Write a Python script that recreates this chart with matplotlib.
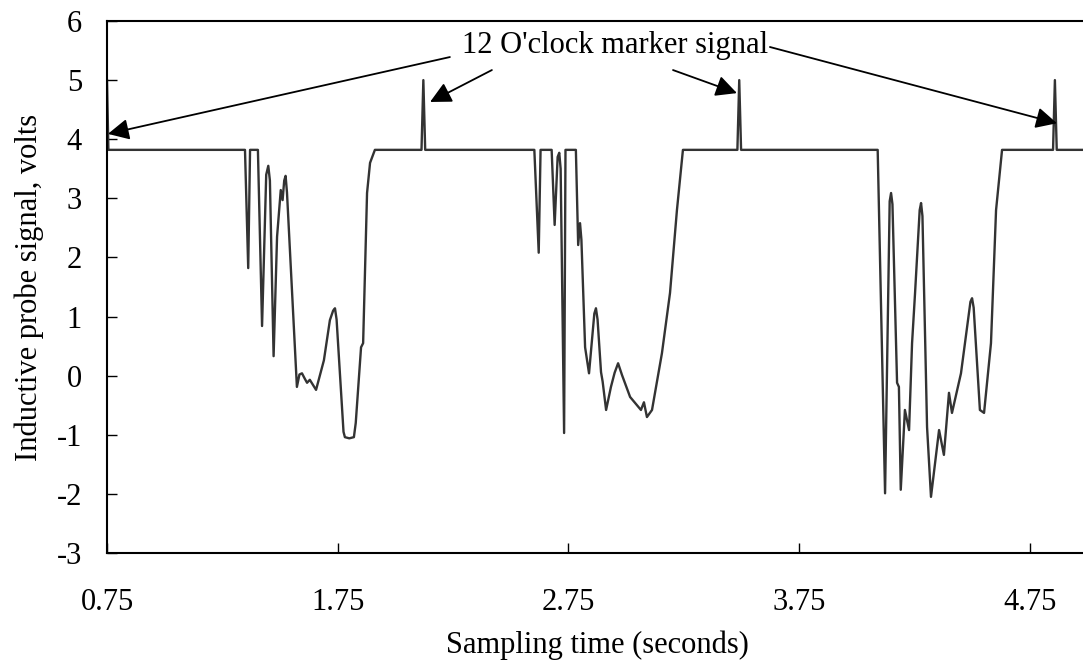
import numpy as np
import matplotlib.pyplot as plt

plt.rcParams['font.family'] = ['Liberation Serif', 'DejaVu Serif']
plt.rcParams['axes.unicode_minus'] = False

# digitized probe signal (seconds, volts)
time_s = [0.750, 0.756,
          1.348, 1.362, 1.370, 1.404, 1.422, 1.440, 1.449, 1.456, 1.472, 1.487,
          1.503, 1.511, 1.518, 1.524, 1.530, 1.573, 1.584, 1.595, 1.607, 1.617,
          1.629, 1.656, 1.690, 1.716, 1.730, 1.738, 1.745, 1.775, 1.781, 1.800,
          1.820, 1.828, 1.851, 1.860, 1.877, 1.890, 1.911,
          2.113, 2.121, 2.129,
          2.602, 2.621, 2.629, 2.677, 2.690, 2.703, 2.710, 2.716, 2.731, 2.737,
          2.782, 2.792, 2.800, 2.806, 2.822, 2.839, 2.862, 2.869, 2.876, 2.891,
          2.898, 2.913, 2.934, 2.950, 2.965, 2.982, 3.017, 3.064, 3.077, 3.090,
          3.112, 3.155, 3.190, 3.220, 3.246,
          3.482, 3.490, 3.498,
          4.090, 4.100, 4.122, 4.142, 4.148, 4.154, 4.174, 4.182, 4.190, 4.208,
          4.226, 4.239, 4.252, 4.272, 4.278, 4.284, 4.304, 4.321, 4.356, 4.377,
          4.399, 4.412, 4.451, 4.492, 4.499, 4.506, 4.533, 4.551, 4.581, 4.603,
          4.629,
          4.850, 4.858, 4.866, 4.990]
volts = [5.00, 3.82,
         3.82, 1.82, 3.82, 3.82, 0.84, 3.40, 3.55, 3.30, 0.33, 2.35,
         3.14, 2.97, 3.30, 3.38, 3.10, -0.19, 0.02, 0.04, -0.05, -0.12,
         -0.07, -0.24, 0.26, 0.94, 1.10, 1.14, 0.95, -0.95, -1.04, -1.06,
         -1.04, -0.80, 0.48, 0.55, 3.09, 3.60, 3.82,
         3.82, 5.00, 3.82,
         3.82, 2.08, 3.82, 3.82, 2.55, 3.70, 3.77, 3.50, -0.97, 3.82,
         3.82, 2.21, 2.58, 2.30, 0.48, 0.04, 1.05, 1.14, 0.95, 0.06,
         -0.10, -0.58, -0.19, 0.05, 0.21, 0.01, -0.36, -0.58, -0.45, -0.70,
         -0.58, 0.38, 1.40, 2.80, 3.82,
         3.82, 5.00, 3.82,
         3.82, 2.00, -1.99, 2.95, 3.09, 2.90, -0.12, -0.19, -1.93, -0.58,
         -0.92, 0.55, 1.40, 2.80, 2.92, 2.70, -0.87, -2.05, -0.92, -1.34,
         -0.29, -0.63, 0.04, 1.25, 1.31, 1.15, -0.58, -0.63, 0.55, 2.80,
         3.82,
         3.82, 5.00, 3.82, 3.82]

x_ticks = [0.75, 1.75, 2.75, 3.75, 4.75]
y_ticks = [-3, -2, -1, 0, 1, 2, 3, 4, 5, 6]

fig = plt.figure(figsize=(10.83, 6.6), dpi=100)
ax = fig.add_axes([0.0988, 0.1621, 0.9055, 0.8061])

ax.plot(time_s, volts, color="#333333", linewidth=1.7)

ax.set_xlim(0.75, 5.0)
ax.set_ylim(-3, 6)
ax.set_xticks(x_ticks)
ax.set_xticklabels(["%.2f" % t for t in x_ticks])
ax.set_yticks(y_ticks)
ax.tick_params(direction="in", length=7, width=1, labelsize=22)
ax.tick_params(axis="x", pad=25)
ax.tick_params(axis="y", pad=18)
for s in ax.spines.values():
    s.set_linewidth(1.5)

ax.set_xlabel("Sampling time (seconds)", fontsize=22, labelpad=10)
ax.set_ylabel("Inductive probe signal, volts", fontsize=22, labelpad=9)

ax.text(2.952, 5.46, "12 O'clock marker signal", ha="center", va="baseline",
        fontsize=22)

# arrows: (tip, tail)
arrows = [((0.754, 4.09), (2.236, 5.39)),
          ((2.150, 4.63), (2.418, 5.17)),
          ((3.480, 4.78), (3.203, 5.17)),
          ((4.867, 4.27), (3.623, 5.56))]
for tip, tail in arrows:
    ax.annotate("", xy=tip, xytext=tail,
                arrowprops=dict(arrowstyle="-|>", color="black", lw=1.3,
                                mutation_scale=32, shrinkA=0, shrinkB=0))

fig.savefig("out.png", dpi=100)
